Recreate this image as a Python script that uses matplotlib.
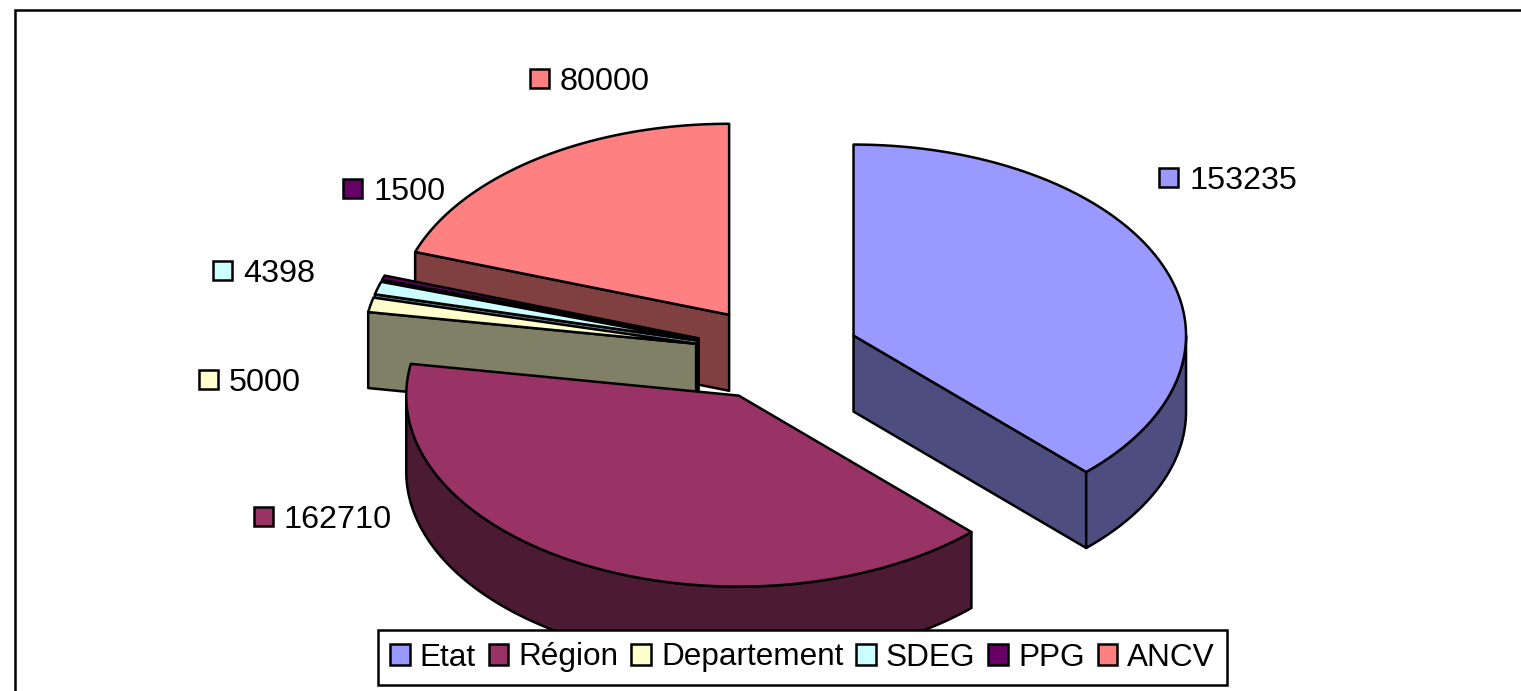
"""3D exploded pie of funding sources, drawn as projected ellipse polygons."""

from __future__ import annotations

import matplotlib

matplotlib.use("Agg", force=True)
import matplotlib.pyplot as plt
import numpy as np
from matplotlib.patches import Patch, Polygon, Rectangle

CATEGORIES = ["Etat", "Région", "Departement", "SDEG", "PPG", "ANCV"]
VALUES = [153235, 162710, 5000, 4398, 1500, 80000]
COLORS = ["#9999FF", "#993366", "#FFFFCC", "#CCFFFF", "#660066", "#FF8080"]
WALL_COLORS = ["#4D4D80", "#4D1A33", "#808066", "#668080", "#330033", "#804040"]

# layout, in image pixels
WIDTH, HEIGHT = 1521, 691
CENTER_X, CENTER_Y = 777.0, 353.5
RADIUS_X, RADIUS_Y = 332.5, 191.0
DEPTH = 76.0
EXPLODE = 0.2486
LINE_W = 1.8
FONT_SIZE = 23.3
LEGEND_FONT_SIZE = 22.7
LABEL_POS = [(1159, 177), (254, 516), (199, 379), (213, 270), (343, 188), (530, 78)]
BOX = 19
DRAW_ORDER = [5, 4, 3, 2, 1, 0]

plt.rcParams["font.family"] = ["Liberation Sans", "DejaVu Sans"]


def ellipse_xy(angle, cx, cy):
    """Project clockwise-from-north degrees onto the tilted pie ellipse."""
    rad = np.radians(angle)
    return cx + RADIUS_X * np.sin(rad), cy - RADIUS_Y * np.cos(rad)


def draw_slice(ax, start, end, color, wall):
    """Draw one exploded slice: visible cut faces, front rim, then the top."""
    mid = np.radians((start + end) / 2)
    cx = CENTER_X + EXPLODE * RADIUS_X * np.sin(mid)
    cy = CENTER_Y - EXPLODE * RADIUS_Y * np.cos(mid)
    style = {"edgecolor": "black", "linewidth": LINE_W, "joinstyle": "round"}

    for angle, visible in ((start, np.sin(np.radians(start)) < 0), (end, np.sin(np.radians(end)) > 0)):
        if visible:
            x, y = ellipse_xy(angle, cx, cy)
            face = [(cx, cy), (x, y), (x, y + DEPTH), (cx, cy + DEPTH)]
            ax.add_patch(Polygon(face, closed=True, facecolor=wall, **style))

    rim_start, rim_end = max(start, 90), min(end, 270)
    if rim_end > rim_start:
        arc = np.linspace(rim_start, rim_end, 120)
        x, y = ellipse_xy(arc, cx, cy)
        rim = np.vstack([np.column_stack([x, y]), np.column_stack([x, y + DEPTH])[::-1]])
        ax.add_patch(Polygon(rim, closed=True, facecolor=wall, **style))

    arc = np.linspace(start, end, 160)
    x, y = ellipse_xy(arc, cx, cy)
    top = np.vstack([[cx, cy], np.column_stack([x, y])])
    ax.add_patch(Polygon(top, closed=True, facecolor=color, **style))


def main():
    fig = plt.figure(figsize=(WIDTH / 100, HEIGHT / 100), dpi=100)
    ax = fig.add_axes([0, 0, 1, 1])
    ax.set_xlim(0, WIDTH)
    ax.set_ylim(HEIGHT, 0)
    ax.axis("off")

    # chart frame runs off the right and bottom of the image
    ax.add_patch(Rectangle((14.5, 9.5), WIDTH, HEIGHT, facecolor="white", edgecolor="black", linewidth=LINE_W))

    bounds = np.concatenate([[0], np.cumsum(VALUES)]) / np.sum(VALUES) * 360
    for i in DRAW_ORDER:
        draw_slice(ax, bounds[i], bounds[i + 1], COLORS[i], WALL_COLORS[i])

    for value, color, (x, y) in zip(VALUES, COLORS, LABEL_POS):
        ax.add_patch(Rectangle((x, y - BOX / 2), BOX, BOX, facecolor=color, edgecolor="black", linewidth=LINE_W))
        ax.text(x + BOX + 11, y, str(value), fontsize=FONT_SIZE, va="center_baseline", ha="left", color="black")

    handles = [Patch(facecolor=c, edgecolor="black", linewidth=LINE_W) for c in COLORS]
    legend = ax.legend(
        handles,
        CATEGORIES,
        ncol=6,
        loc="center",
        bbox_to_anchor=(802.5 / WIDTH, 1 - 657.5 / HEIGHT),
        fontsize=LEGEND_FONT_SIZE,
        frameon=True,
        fancybox=False,
        framealpha=1,
        edgecolor="black",
        handlelength=0.62,
        handleheight=0.62,
        handletextpad=0.32,
        columnspacing=0.41,
        borderpad=0.4,
        borderaxespad=0,
    )
    legend.get_frame().set_linewidth(LINE_W)
    legend.set_zorder(10)

    fig.savefig("out.png", dpi=100)
    plt.close(fig)


if __name__ == "__main__":
    main()
